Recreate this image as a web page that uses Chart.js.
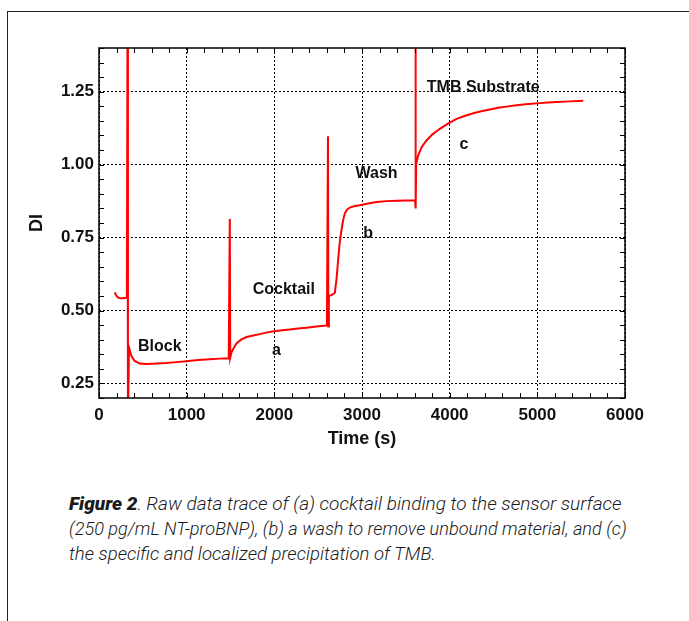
<!DOCTYPE html>
<html><head><meta charset="utf-8">
<script src="https://cdn.jsdelivr.net/npm/chart.js@4"></script>
<style>
html,body{margin:0;padding:0;background:#fff;width:689px;height:621px;overflow:hidden;position:relative;}
#frame{position:absolute;left:7px;top:11px;width:690px;height:620px;border-top:1px solid #222;border-left:1px solid #222;}
#wrap{position:absolute;left:0;top:0;width:689px;height:470px;}
#cap{position:absolute;left:69px;top:491px;font-family:Roboto,"Liberation Sans",sans-serif;font-style:italic;font-weight:300;font-size:19px;line-height:25px;color:#1a1a1a;white-space:nowrap;}
#cap div{transform-origin:0 50%;}
#cap b{font-weight:900;}
</style></head>
<body>
<div id="frame"></div>
<div id="wrap"><canvas id="c" width="689" height="470"></canvas></div>
<div id="cap">
<div style="transform:scaleX(1.0)"><b>Figure 2</b>. Raw data trace of (a) cocktail binding to the sensor surface</div>
<div style="transform:scaleX(0.955)">(250 pg/mL NT-proBNP), (b) a wash to remove unbound material, and (c)</div>
<div style="transform:scaleX(0.978)">the specific and localized precipitation of TMB.</div>
</div>
<script>
// ---- data ----
const timeS = [180,195,210,230,260,290,318,326,330,342,370,407,465,540,650,769,880,997,1130,1263,1380,1480,1492,1497,1511,1540,1568,1620,1682,1760,1834,1920,1997,2090,2176,2270,2367,2480,2600,2612,2616,2622,2650,2690,2710,2728,2745,2766,2785,2804,2830,2861,2918,2975,3070,3166,3280,3394,3500,3605,3610,3614,3618,3641,3680,3736,3800,3888,3980,4079,4170,4269,4360,4459,4550,4649,4740,4839,4930,5029,5120,5220,5370,5524];
const diValues = [0.562,0.552,0.546,0.543,0.542,0.543,0.544,1.6,0.1,0.373,0.344,0.327,0.318,0.317,0.318,0.320,0.323,0.326,0.330,0.333,0.335,0.336,0.814,0.338,0.356,0.373,0.387,0.400,0.409,0.414,0.419,0.425,0.429,0.432,0.435,0.438,0.441,0.445,0.449,1.097,0.445,0.549,0.553,0.560,0.610,0.674,0.730,0.776,0.810,0.833,0.846,0.853,0.858,0.861,0.867,0.872,0.875,0.876,0.877,0.878,1.6,0.850,1.003,1.032,1.060,1.083,1.103,1.123,1.141,1.157,1.167,1.176,1.183,1.189,1.195,1.199,1.203,1.206,1.209,1.211,1.213,1.215,1.217,1.219];
const xTicks = [0,1000,2000,3000,4000,5000,6000];
const yTicks = [0.25,0.50,0.75,1.00,1.25];
const noteText = ['Block','a','Cocktail','b','Wash','c','TMB Substrate'];
const noteX = [694,2025,2108,3070,3166,4162,4383];
const noteY = [0.376,0.361,0.571,0.762,0.969,1.068,1.263];

const FONT = '"Liberation Sans", Arial, Helvetica, sans-serif';

const framePlugin = {
  id: 'framePlugin',
  afterDatasetsDraw(chart) {
    const {ctx, chartArea: a, scales: {x, y}} = chart;
    ctx.save();
    ctx.strokeStyle = '#000';
    ctx.lineWidth = 1.5;
    ctx.strokeRect(a.left, a.top, a.right - a.left, a.bottom - a.top);
    ctx.lineWidth = 1;
    ctx.beginPath();
    const L = 5;
    for (let v = x.min; v <= x.max + 1e-9; v += 200) {
      const px = Math.round(x.getPixelForValue(v)) + 0.5;
      ctx.moveTo(px, a.bottom); ctx.lineTo(px, a.bottom - L);
      ctx.moveTo(px, a.top); ctx.lineTo(px, a.top + L);
    }
    for (let v = y.min; v <= y.max + 1e-9; v += 0.05) {
      const py = Math.round(y.getPixelForValue(v)) + 0.5;
      ctx.moveTo(a.left, py); ctx.lineTo(a.left + L, py);
      ctx.moveTo(a.right, py); ctx.lineTo(a.right - L, py);
    }
    ctx.stroke();
    ctx.fillStyle = '#111';
    ctx.font = 'bold 16px ' + FONT;
    ctx.textAlign = 'center';
    ctx.textBaseline = 'middle';
    noteText.forEach((t, i) => {
      ctx.fillText(t, x.getPixelForValue(noteX[i]), y.getPixelForValue(noteY[i]));
    });
    ctx.restore();
  }
};

new Chart(document.getElementById('c'), {
  type: 'line',
  data: {
    datasets: [{
      data: timeS.map((t, i) => ({x: t, y: diValues[i]})),
      borderColor: '#ff0000',
      borderWidth: 2,
      pointRadius: 0,
      tension: 0,
      fill: false
    }]
  },
  options: {
    responsive: false,
    animation: false,
    devicePixelRatio: 1,
    layout: {padding: {left: 0, top: 48, right: 64, bottom: 0}},
    plugins: {legend: {display: false}, tooltip: {enabled: false}},
    scales: {
      x: {
        type: 'linear', min: 0, max: 6000,
        afterBuildTicks: s => { s.ticks = xTicks.map(v => ({value: v})); },
        afterFit: s => { s.height = 72; },
        ticks: {color: '#111', font: {family: FONT, size: 17, weight: 'bold'}, padding: 7, callback: v => String(v), maxRotation: 0},
        grid: {color: '#000', lineWidth: 1, drawTicks: false},
        border: {display: false, dash: [2, 2]},
        title: {display: true, text: 'Time (s)', color: '#111', font: {family: FONT, size: 18, weight: 'bold'}, padding: {top: 0, bottom: 20}}
      },
      y: {
        type: 'linear', min: 0.2, max: 1.4,
        afterBuildTicks: s => { s.ticks = yTicks.map(v => ({value: v})); },
        afterFit: s => { s.width = 99; },
        ticks: {color: '#111', font: {family: FONT, size: 17, weight: 'bold'}, padding: 5, callback: v => Number(v).toFixed(2)},
        grid: {color: '#000', lineWidth: 1, drawTicks: false},
        border: {display: false, dash: [2, 2]},
        title: {display: true, text: 'DI', color: '#111', font: {family: FONT, size: 18, weight: 'bold'}, padding: {top: 26, bottom: 0}}
      }
    }
  },
  plugins: [framePlugin]
});
</script>
</body></html>
